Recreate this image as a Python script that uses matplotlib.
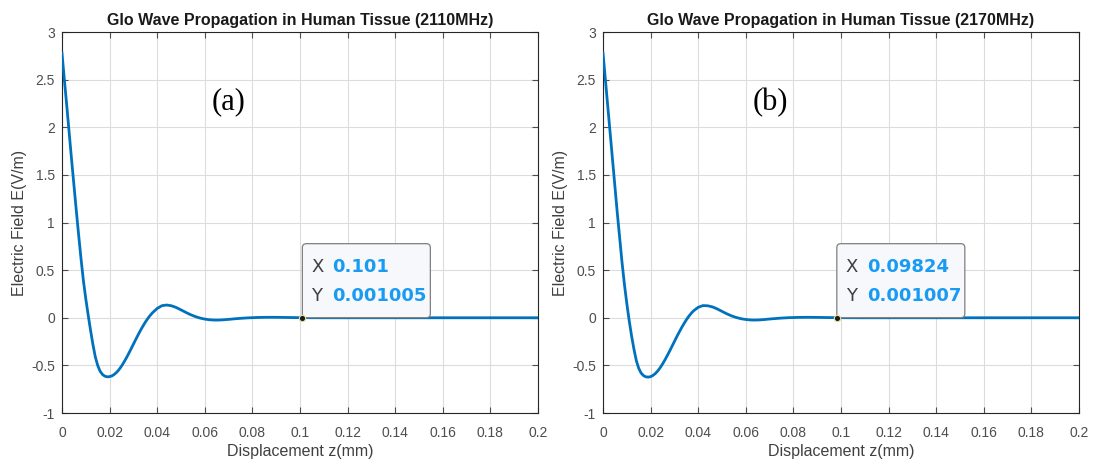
import matplotlib.pyplot as plt
import matplotlib.transforms as mtransforms
from matplotlib.patches import FancyBboxPatch

plt.rcParams["font.family"] = ["Liberation Sans", "DejaVu Sans"]

# displacement samples (mm)
z = [0.000, 0.001, 0.002, 0.003, 0.004, 0.005, 0.006, 0.007, 0.008, 0.009,
     0.010, 0.011, 0.012, 0.013, 0.014, 0.015, 0.016, 0.017, 0.018, 0.019,
     0.020, 0.021, 0.022, 0.023, 0.024, 0.025, 0.026, 0.027, 0.028, 0.029,
     0.030, 0.031, 0.032, 0.033, 0.034, 0.035, 0.036, 0.037, 0.038, 0.040,
     0.042, 0.044, 0.046, 0.048, 0.050, 0.052, 0.054, 0.056, 0.058, 0.060,
     0.062, 0.064, 0.066, 0.068, 0.070, 0.072, 0.075, 0.078, 0.082, 0.086,
     0.090, 0.095, 0.100, 0.110, 0.120, 0.140, 0.160, 0.180, 0.200]

E_2110 = [2.78, 2.50, 2.23, 1.95, 1.67, 1.40, 1.13, 0.87, 0.62, 0.39,
          0.20, 0.03, -0.13, -0.28, -0.41, -0.50, -0.56, -0.595, -0.613, -0.62,
          -0.618, -0.610, -0.594, -0.572, -0.543, -0.508, -0.468, -0.424, -0.377, -0.328,
          -0.278, -0.228, -0.179, -0.132, -0.088, -0.047, -0.010, 0.023, 0.052, 0.098,
          0.127, 0.134, 0.126, 0.108, 0.083, 0.057, 0.033, 0.013, -0.003, -0.014,
          -0.021, -0.024, -0.024, -0.021, -0.017, -0.012, -0.006, -0.001, 0.003, 0.005,
          0.005, 0.003, 0.0012, 0.0, 0.0, 0.0, 0.0, 0.0, 0.0]

E_2170 = [2.78, 2.50, 2.22, 1.94, 1.66, 1.38, 1.10, 0.84, 0.58, 0.35,
          0.15, -0.03, -0.19, -0.33, -0.45, -0.53, -0.58, -0.607, -0.62, -0.623,
          -0.618, -0.605, -0.585, -0.558, -0.525, -0.486, -0.443, -0.397, -0.349, -0.299,
          -0.249, -0.199, -0.151, -0.105, -0.062, -0.022, 0.014, 0.045, 0.072, 0.110,
          0.128, 0.126, 0.114, 0.093, 0.067, 0.042, 0.020, 0.003, -0.010, -0.018,
          -0.023, -0.024, -0.022, -0.018, -0.013, -0.009, -0.003, 0.001, 0.004, 0.005,
          0.004, 0.002, 0.001, 0.0, 0.0, 0.0, 0.0, 0.0, 0.0]

titles = ["Glo Wave Propagation in Human Tissue (2110MHz)",
          "Glo Wave Propagation in Human Tissue (2170MHz)"]
tags = ["(a)", "(b)"]
tip_x = [0.101, 0.09824]
tip_y = [0.001005, 0.001007]
tip_xlabel = ["0.101", "0.09824"]
tip_ylabel = ["0.001005", "0.001007"]

xticks = [0, 0.02, 0.04, 0.06, 0.08, 0.1, 0.12, 0.14, 0.16, 0.18, 0.2]
xticklabels = ["0", "0.02", "0.04", "0.06", "0.08", "0.1", "0.12", "0.14",
               "0.16", "0.18", "0.2"]
yticks = [-1, -0.5, 0, 0.5, 1, 1.5, 2, 2.5, 3]
yticklabels = ["-1", "-0.5", "0", "0.5", "1", "1.5", "2", "2.5", "3"]

LINE = "#0072BD"
TIPBLUE = "#1a9bf2"
TICKCOL = "#4d4d4d"
TIPFONT = ["DejaVu Sans"]

fig = plt.figure(figsize=(10.93, 4.62), dpi=100)
lefts = [0.0567, 0.5517]
axes = [fig.add_axes([l, 0.106, 0.4355, 0.8247]) for l in lefts]

for i, ax in enumerate(axes):
    E = E_2110 if i == 0 else E_2170
    ax.plot(z, E, color=LINE, lw=2.0, zorder=3)
    ax.set_xlim(0, 0.2)
    ax.set_ylim(-1, 3)
    ax.set_xticks(xticks)
    ax.set_xticklabels(xticklabels)
    ax.set_yticks(yticks)
    ax.set_yticklabels(yticklabels)
    ax.grid(True, color="#dcdcdc", lw=0.8)
    ax.set_axisbelow(True)
    ax.tick_params(direction="in", top=True, right=True, length=4,
                   labelsize=10, colors=TICKCOL, pad=5)
    ax.tick_params(axis="x", pad=9)
    for sp in ax.spines.values():
        sp.set_color("#262626")
        sp.set_linewidth(0.8)
    ax.set_title(titles[i], fontsize=11.5, fontweight="bold", color="#1a1a1a", pad=5)
    ax.set_xlabel("Displacement z(mm)", fontsize=11.5, color="#404040", labelpad=3)
    ax.set_ylabel("Electric Field E(V/m)", fontsize=11.5, color="#404040", labelpad=3)
    ax.text(0.351, 0.816, tags[i], transform=ax.transAxes, fontsize=22,
            family=["Liberation Serif", "DejaVu Serif"], ha="center", va="center")

    # data tip anchored at the selected point
    anchor = mtransforms.ScaledTranslation(tip_x[i], tip_y[i], ax.transData)
    tr = fig.dpi_scale_trans + anchor
    box = FancyBboxPatch((0.0, 0.0), 1.28, 0.74,
                         boxstyle="round,pad=0,rounding_size=0.04",
                         transform=tr, facecolor="#f7f8fc", edgecolor="#7f7f7f",
                         lw=0.9, zorder=5, clip_on=False)
    ax.add_patch(box)
    ax.text(0.09, 0.51, "X", transform=tr, fontsize=13, color="#404040",
            family=TIPFONT, va="center", ha="left", zorder=6)
    ax.text(0.30, 0.51, tip_xlabel[i], transform=tr, fontsize=13, color=TIPBLUE,
            family=TIPFONT, fontweight="bold", va="center", ha="left", zorder=6)
    ax.text(0.09, 0.22, "Y", transform=tr, fontsize=13, color="#404040",
            family=TIPFONT, va="center", ha="left", zorder=6)
    ax.text(0.30, 0.22, tip_ylabel[i], transform=tr, fontsize=13, color=TIPBLUE,
            family=TIPFONT, fontweight="bold", va="center", ha="left", zorder=6)
    ax.plot([tip_x[i]], [tip_y[i]], "o", ms=4.5, mfc="#1a1a1a", mec="#e8e0a0",
            mew=0.8, zorder=7)

fig.savefig("out.png", dpi=100)
